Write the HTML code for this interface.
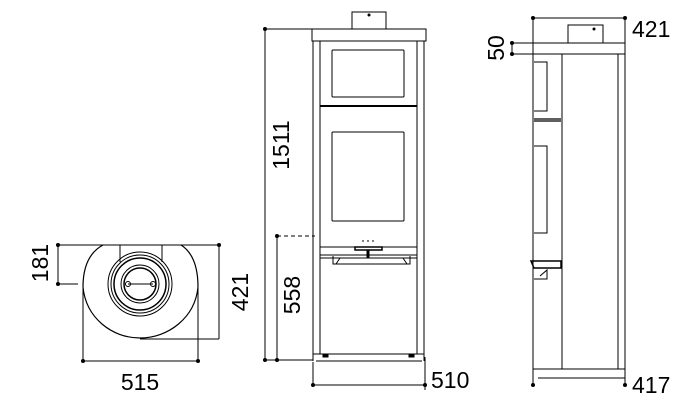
<!DOCTYPE html>
<html><head><style>body{margin:0;background:#fff}svg{display:block}</style></head><body>
<svg width="700" height="400" viewBox="0 0 700 400" xmlns="http://www.w3.org/2000/svg" font-family="Liberation Sans, sans-serif" font-size="23" fill="none" stroke="#000" stroke-width="1">
<!-- Top view -->
<g>
<line x1="58" y1="245" x2="219" y2="245"/>
<line x1="58" y1="245" x2="58" y2="284"/><line x1="58" y1="284" x2="78" y2="284"/>
<line x1="219" y1="245" x2="219" y2="339"/><line x1="140" y1="339" x2="219" y2="339"/>
<line x1="83" y1="361" x2="198" y2="361"/>
<line x1="83" y1="287" x2="83" y2="361"/><line x1="198" y1="287" x2="198" y2="361"/>
<path d="M103,245 C90,252 83,266 83,287 C86,318 112,338 140,338 C168,338 195,318 198,287 C198,266 192,252 181,245" stroke-width="1.2"/>
<line x1="120" y1="245" x2="120" y2="262"/><line x1="162" y1="245" x2="162" y2="262"/>
<circle cx="140" cy="284" r="32"/><circle cx="140" cy="284" r="29"/><circle cx="140" cy="284" r="26" stroke-width="1.5"/>
<circle cx="140" cy="284" r="19"/><circle cx="140" cy="284" r="16" stroke-width="1.5"/>
<line x1="128" y1="284" x2="153" y2="284"/><circle cx="128" cy="284" r="2.5"/><circle cx="153" cy="284" r="2.5"/>
<g fill="#000" stroke="none"><circle cx="58" cy="245" r="2"/><circle cx="219" cy="245" r="2"/><circle cx="58" cy="284" r="2"/><circle cx="83" cy="361" r="2"/><circle cx="198" cy="361" r="2"/></g>
<text x="40" y="263" fill="#000" stroke="none" text-anchor="middle" transform="rotate(-90 40 263)" dy="8">181</text>
<text x="240" y="292" fill="#000" stroke="none" text-anchor="middle" transform="rotate(-90 240 292)" dy="8">421</text>
<text x="140" y="390" fill="#000" stroke="none" text-anchor="middle">515</text>
</g>
<!-- Front view -->
<g>
<rect x="352" y="12" width="34" height="17"/><circle cx="369" cy="15" r="1" fill="#000"/>
<rect x="312" y="29" width="114" height="12"/>
<line x1="313" y1="41" x2="313" y2="361"/><line x1="424" y1="41" x2="424" y2="361"/>
<line x1="320" y1="41" x2="320" y2="354"/><line x1="417" y1="41" x2="417" y2="354"/>
<line x1="313" y1="354" x2="424" y2="354"/>
<rect x="332" y="50" width="72" height="47" rx="1"/>
<line x1="320" y1="106" x2="417" y2="106" stroke-width="2"/>
<rect x="332" y="132" width="72" height="89" rx="1"/>
<line x1="362" y1="241" x2="375" y2="241" stroke-dasharray="2,3"/>
<rect x="320" y="247" width="97" height="8"/>
<rect x="355" y="247" width="27" height="3" stroke-width="1.5"/>
<line x1="368" y1="250" x2="368" y2="258" stroke-width="3"/>
<path d="M333,256 L333,264 L410,264 L410,256 M336,264 L340,258 M407,264 L403,258"/>
<line x1="320" y1="258" x2="417" y2="258"/>
<line x1="316" y1="361" x2="422" y2="361"/>
<rect x="323" y="354" width="5" height="3" fill="#000"/><rect x="409" y="354" width="5" height="3" fill="#000"/>
<line x1="265" y1="29" x2="312" y2="29"/>
<line x1="265" y1="29" x2="265" y2="360"/><line x1="265" y1="360" x2="313" y2="360"/>
<line x1="277" y1="236" x2="277" y2="360"/>
<line x1="277" y1="236" x2="315" y2="236" stroke-dasharray="4,3"/>
<line x1="313" y1="362" x2="313" y2="385"/>
<line x1="313" y1="385" x2="425" y2="385"/><line x1="425" y1="357" x2="425" y2="390"/>
<g fill="#000" stroke="none"><circle cx="265" cy="29" r="2"/><circle cx="265" cy="360" r="2"/><circle cx="277" cy="236" r="2"/><circle cx="277" cy="360" r="2"/><circle cx="313" cy="385" r="2"/><circle cx="425" cy="385" r="2"/></g>
<text x="281" y="145" fill="#000" stroke="none" text-anchor="middle" transform="rotate(-90 281 145)" dy="8">1511</text>
<text x="292" y="295" fill="#000" stroke="none" text-anchor="middle" transform="rotate(-90 292 295)" dy="8">558</text>
<text x="431" y="388" fill="#000" stroke="none">510</text>
</g>
<!-- Side view -->
<g>
<line x1="533" y1="18" x2="625" y2="18"/>
<line x1="533" y1="18" x2="533" y2="385"/><line x1="625" y1="18" x2="625" y2="385"/>
<rect x="568" y="25" width="35" height="18"/><circle cx="594" cy="29" r="1" fill="#000"/>
<rect x="533" y="43" width="92" height="11"/>
<line x1="512" y1="43" x2="533" y2="43"/><line x1="512" y1="54" x2="533" y2="54"/><line x1="512" y1="43" x2="512" y2="54"/>
<line x1="562" y1="54" x2="562" y2="369"/><line x1="618" y1="54" x2="618" y2="369"/>
<line x1="533" y1="369" x2="625" y2="369"/>
<path d="M534,62 L547,62 L547,111 L534,111"/>
<path d="M534,119 L561,119 M534,121 L561,121" stroke-width="1.2"/>
<path d="M534,146 L547,146 L547,233 L534,233"/>
<path d="M531,261 L561,261 L561,268 L534,268 Z" stroke-width="1.5"/>
<path d="M540,276 L547,270 L547,279 L534,279"/>
<line x1="538" y1="378" x2="625" y2="378"/>
<g fill="#000" stroke="none"><circle cx="533" cy="18" r="2"/><circle cx="625" cy="18" r="2"/><circle cx="512" cy="43" r="2"/><circle cx="512" cy="54" r="2"/><circle cx="533" cy="385" r="2"/><circle cx="625" cy="385" r="2"/></g>
<text x="496" y="48" fill="#000" stroke="none" text-anchor="middle" transform="rotate(-90 496 48)" dy="8">50</text>
<text x="632" y="37" fill="#000" stroke="none">421</text>
<text x="632" y="393" fill="#000" stroke="none">417</text>
</g>
</svg>
</body></html>
